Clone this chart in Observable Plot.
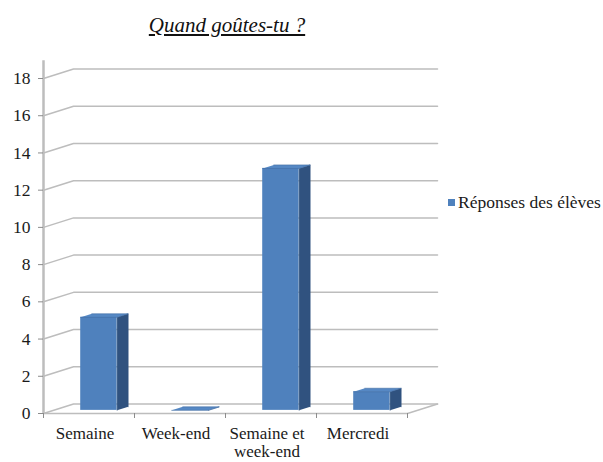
<!DOCTYPE html>
<html><head><meta charset="utf-8">
<script src="https://cdn.jsdelivr.net/npm/d3@7"></script>
<script src="https://cdn.jsdelivr.net/npm/@observablehq/plot@0.6"></script>
<style>
body{margin:0;background:#fff;}
#wrap{position:relative;width:603px;height:462px;font-family:"Liberation Serif","DejaVu Serif",serif;color:#1a1a1a;}
#chart{position:absolute;left:0;top:0;}
#title{position:absolute;left:0;width:454px;top:13px;text-align:center;font-style:italic;text-decoration:underline;font-size:21px;color:#111;}
#legend{position:absolute;left:448px;top:192px;font-size:17.5px;white-space:nowrap;display:flex;align-items:center;}
#legend .sw{display:inline-block;width:7px;height:7px;background:#4F81BD;margin-right:3px;}
</style></head>
<body>
<div id="wrap">
  <div id="chart"></div>
  <div id="title"></div>
  <div id="legend"><span class="sw"></span><span id="legtxt"></span></div>
</div>
<script>
const title = "Quand goûtes-tu ?";
const seriesName = "Réponses des élèves";
const categories = ["Semaine", "Week-end", "Semaine et\nweek-end", "Mercredi"];
const values = [5, 0, 13, 1];
const yTicks = [0, 2, 4, 6, 8, 10, 12, 14, 16, 18];

document.getElementById("title").textContent = title;
document.getElementById("legtxt").textContent = seriesName;

// 3D projection (depth offset in data units)
const DX = 0.33, DY = 0.51, F0 = 0.33, F1 = 0.70, HW = 0.2;
const X0 = -0.5, X1 = categories.length - 0.5;

const bars = values.map((v, i) => ({i, v, label: categories[i]}));
const fx1 = d => d.i - HW + F0 * DX;
const fx2 = d => d.i + HW + F0 * DX;
const ddx = (F1 - F0) * DX;

const sidePts = bars.flatMap(d => [
  {id: d.i, x: fx2(d), y: F0 * DY},
  {id: d.i, x: fx2(d), y: d.v + F0 * DY},
  {id: d.i, x: fx2(d) + ddx, y: d.v + F1 * DY},
  {id: d.i, x: fx2(d) + ddx, y: F1 * DY}
]);
const topPts = bars.flatMap(d => [
  {id: d.i, x: fx1(d), y: d.v + F0 * DY},
  {id: d.i, x: fx2(d), y: d.v + F0 * DY},
  {id: d.i, x: fx2(d) + ddx, y: d.v + F1 * DY},
  {id: d.i, x: fx1(d) + ddx, y: d.v + F1 * DY}
]);
const gridPts = yTicks.flatMap(t => [
  {t, x: X0, y: t},
  {t, x: X0 + DX, y: t + DY},
  {t, x: X1 + DX, y: t + DY}
]);
const floorPts = [
  {x: X0, y: 0}, {x: X1, y: 0}, {x: X1 + DX, y: DY}
];
const bounds = d3.range(categories.length + 1).map(k => k - 0.5);

const gray = "#BDBDBD";
const font = "'Liberation Serif', 'DejaVu Serif', serif";
const plot = Plot.plot({
  width: 603, height: 462,
  marginLeft: 43, marginRight: 196, marginTop: 78, marginBottom: 49,
  x: {type: "linear", domain: [X0, X1], label: null},
  y: {domain: [0, 18], label: null},
  style: {fontFamily: font, fontSize: "17.5px", background: "white", color: "#1a1a1a"},
  marks: [
    Plot.line(gridPts, {x: "x", y: "y", z: "t", stroke: gray, strokeWidth: 1.5}),
    Plot.line(floorPts, {x: "x", y: "y", stroke: gray, strokeWidth: 1.5}),
    Plot.ruleX([X0], {y1: 0, y2: 18.95, stroke: gray, strokeWidth: 2.5}),
    Plot.axisY(yTicks, {tickSize: 5, tickPadding: 8, stroke: "#8c8c8c", color: "#1a1a1a", fontSize: 17.5, label: null}),
    Plot.axisX(bounds, {tickSize: 5, tickFormat: () => "", stroke: "#8c8c8c", label: null}),
    Plot.text(bars, {x: "i", y: () => 0, text: "label", lineAnchor: "top", dy: 12.5, dx: -4, lineHeight: 1.05, fontSize: 17, fill: "#1a1a1a"}),
    Plot.rect(bars, {x1: fx1, x2: fx2, y1: () => F0 * DY, y2: d => d.v + F0 * DY, fill: "#4F81BD"}),
    Plot.line(sidePts, {x: "x", y: "y", z: "id", fill: "#30527F", stroke: "#30527F", strokeWidth: 0.5}),
    Plot.line(topPts, {x: "x", y: "y", z: "id", fill: "#5688C4", stroke: "#3F6CA3", strokeWidth: 0.6})
  ]
});
document.getElementById("chart").appendChild(plot);
</script>
</body></html>
